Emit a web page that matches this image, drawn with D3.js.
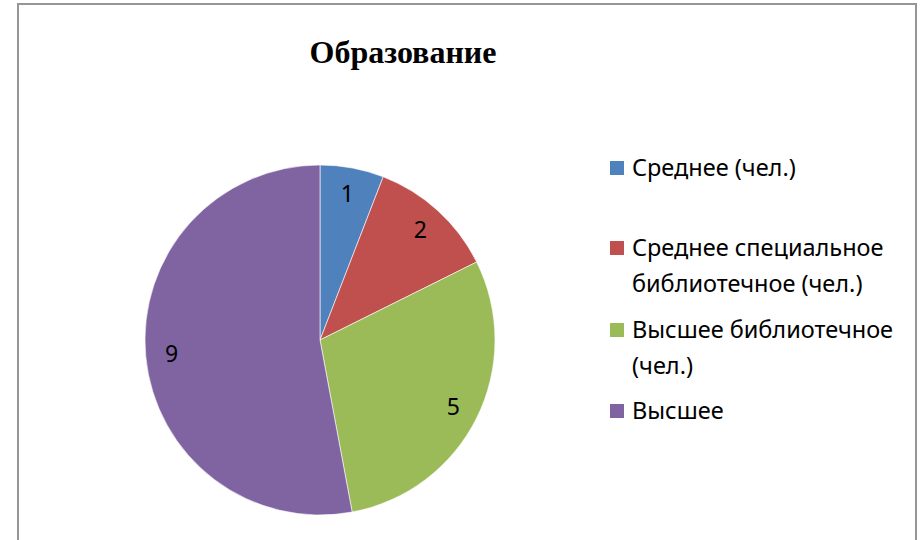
<!DOCTYPE html>
<html>
<head>
<meta charset="utf-8">
<script src="https://cdn.jsdelivr.net/npm/d3@7"></script>
<style>
  body { margin: 0; background: #fff; }
  svg { display: block; }
</style>
</head>
<body>
<svg id="chart" width="921" height="540"></svg>
<script>
'use strict';

const title = 'Образование';
const categories = ['Среднее (чел.)', 'Среднее специальное библиотечное (чел.)', 'Высшее библиотечное (чел.)', 'Высшее'];
// legend lines, wrapped as in the picture
const legendLines = [['Среднее (чел.)'], ['Среднее специальное', 'библиотечное (чел.)'], ['Высшее библиотечное', '(чел.)'], ['Высшее']];
const values = [1, 2, 5, 9];
const colors = ['#4F81BD', '#C0504D', '#9BBB59', '#8064A2'];

const width = 921;
const height = 540;
const labelFont = '"Noto Sans", "Open Sans", sans-serif';

const svg = d3.select('#chart');

// chart frame
svg.append('rect')
    .attr('x', 18)
    .attr('y', 4)
    .attr('width', 898)
    .attr('height', height + 10)
    .attr('fill', '#fff')
    .attr('stroke', '#969696')
    .attr('stroke-width', 2);

svg.append('text')
    .attr('x', 403)
    .attr('y', 63)
    .attr('text-anchor', 'middle')
    .attr('font-family', '"Liberation Serif", "Times New Roman", serif')
    .attr('font-weight', 'bold')
    .attr('font-size', '32px')
    .attr('fill', '#000')
    .text(title);

const cx = 320;
const cy = 340;
const radius = 175;

const pie = d3.pie().sort(null).value(d => d);
const arcs = pie(values);
const arc = d3.arc().innerRadius(0).outerRadius(radius);
const labelArc = d3.arc().innerRadius(149).outerRadius(149);

const g = svg.append('g').attr('transform', `translate(${cx},${cy})`);

g.selectAll('.slice')
    .data(arcs)
    .enter()
    .append('path')
    .attr('class', 'slice')
    .attr('d', arc)
    .attr('fill', (d, i) => colors[i])
    .attr('stroke', '#fff')
    .attr('stroke-width', 0.6);

g.selectAll('.label')
    .data(arcs)
    .enter()
    .append('text')
    .attr('class', 'label')
    .attr('transform', d => 'translate(' + labelArc.centroid(d) + ')')
    .attr('text-anchor', 'middle')
    .attr('dy', '0.36em')
    .attr('font-family', labelFont)
    .attr('font-size', '23px')
    .attr('fill', '#000')
    .text(d => d.data);

// legend
const legendTop = [161, 241, 323, 404];
const lineGap = 35.5;

const legend = svg.selectAll('.legend')
    .data(categories)
    .enter()
    .append('g')
    .attr('class', 'legend')
    .attr('transform', (d, i) => `translate(610,${legendTop[i]})`);

legend.append('rect')
    .attr('width', 14)
    .attr('height', 14)
    .attr('fill', (d, i) => colors[i]);

legend.append('text')
    .attr('x', 22)
    .attr('y', 15)
    .attr('font-family', labelFont)
    .attr('font-size', '23.5px')
    .attr('fill', '#000')
    .selectAll('tspan')
    .data((d, i) => legendLines[i])
    .enter()
    .append('tspan')
    .attr('x', 22)
    .attr('dy', (d, j) => j === 0 ? 0 : lineGap)
    .text(d => d);
</script>
</body>
</html>
